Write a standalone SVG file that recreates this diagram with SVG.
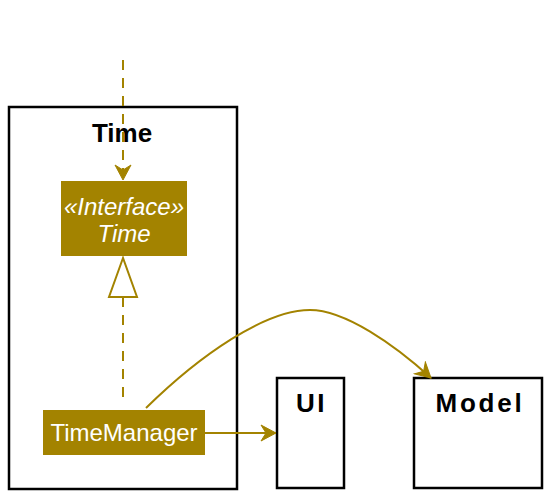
<svg xmlns="http://www.w3.org/2000/svg" width="551" height="498" viewBox="0 0 551 498">
<style>
.pkg{fill:#fff;stroke:#000;stroke-width:2.5}
.cls{fill:#A38300}
.t{font-family:"Liberation Sans",Arial,sans-serif}
.title{font-size:26px;font-weight:bold;fill:#000;text-anchor:middle}
.w{font-size:24px;fill:#fff;text-anchor:middle}
.ln{fill:none;stroke:#A38300;stroke-width:2}
</style>
<defs>
<marker id="arr" markerWidth="18" markerHeight="18" refX="16" refY="9" orient="auto" markerUnits="userSpaceOnUse">
<path d="M1,1 L16,9 L1,17 L6,9 Z" fill="#A38300" stroke="#A38300" stroke-width="1"/>
</marker>
</defs>
<g id="pkg-Time">
<rect class="pkg" x="9" y="107" width="228" height="382"/>
<text class="t title" x="122" y="141.5">Time</text>
</g>
<g id="pkg-UI">
<rect class="pkg" x="277" y="378" width="67" height="110"/>
<text class="t title" x="311.5" y="411.5" letter-spacing="2.5">UI</text>
</g>
<g id="pkg-Model">
<rect class="pkg" x="414" y="378" width="128" height="110"/>
<text class="t title" x="480" y="411.5" letter-spacing="2.8">Model</text>
</g>
<g id="node-ITime">
<rect class="cls" x="61" y="181" width="126" height="75"/>
<text class="t w" x="124" y="215" font-style="italic">«Interface»</text>
<text class="t w" x="124" y="241.5" font-style="italic">Time</text>
</g>
<g id="node-TimeManager">
<rect class="cls" x="43" y="410" width="162" height="45"/>
<text class="t w" x="124" y="440.5">TimeManager</text>
</g>
<g id="connectors">
<path class="ln" d="M123,60 L123,180" stroke-dasharray="10,8" marker-end="url(#arr)"/>
<path class="ln" d="M123,397 L123,298" stroke-dasharray="10,8"/>
<path d="M123,258 L109,297 L137,297 Z" fill="#fff" stroke="#A38300" stroke-width="2"/>
<path class="ln" d="M205,433 L276,433" marker-end="url(#arr)"/>
<path class="ln" d="M146,408 C200,355 265,310 310,310 C345,310 395,345 431,378" marker-end="url(#arr)"/>
</g>
</svg>
